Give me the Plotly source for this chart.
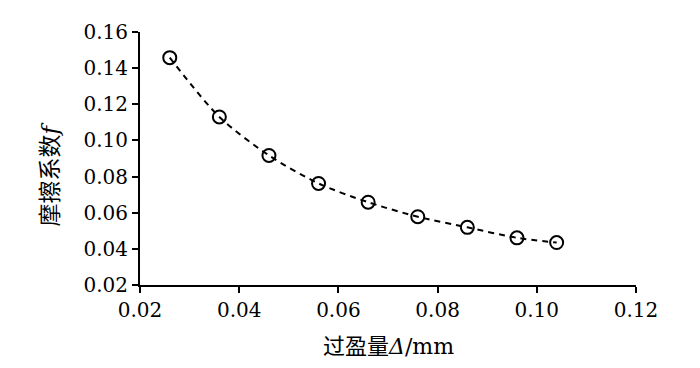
import plotly.graph_objects as go

interference = [0.026, 0.036, 0.046, 0.056, 0.066, 0.076, 0.086, 0.096, 0.104]
friction = [0.1458, 0.113, 0.0917, 0.0762, 0.0658, 0.0578, 0.0519, 0.0461, 0.0435]

x_ticks = [0.02, 0.04, 0.06, 0.08, 0.10, 0.12]
x_tick_labels = ["0.02", "0.04", "0.06", "0.08", "0.10", "0.12"]
y_ticks = [0.02, 0.04, 0.06, 0.08, 0.10, 0.12, 0.14, 0.16]
y_tick_labels = ["0.02", "0.04", "0.06", "0.08", "0.10", "0.12", "0.14", "0.16"]

FONT = "DejaVu Serif, Noto Sans CJK SC, serif"

fig = go.Figure()
fig.add_trace(go.Scatter(
    x=interference, y=friction, mode="lines",
    line=dict(color="black", width=2, dash="6px,5px", shape="spline", smoothing=0.8),
    showlegend=False, hoverinfo="skip"))
fig.add_trace(go.Scatter(
    x=interference, y=friction, mode="markers",
    marker=dict(symbol="circle-open", size=13, color="black", line=dict(width=2, color="black")),
    showlegend=False))

fig.update_layout(
    width=700, height=368,
    margin=dict(l=132, r=72, t=21, b=91),
    paper_bgcolor="white", plot_bgcolor="white",
    font=dict(family=FONT, size=20, color="black"),
)
fig.update_xaxes(
    range=[0.02, 0.12], tickvals=x_ticks, ticktext=x_tick_labels,
    showline=True, linecolor="black", linewidth=2, mirror=False,
    ticks="outside", ticklen=6, tickwidth=2, tickcolor="black",
    showgrid=False, zeroline=False,
)
fig.update_yaxes(
    range=[0.02, 0.16], tickvals=y_ticks, ticktext=y_tick_labels,
    showline=True, linecolor="black", linewidth=2, mirror=False,
    ticks="outside", ticklen=6, tickwidth=2, tickcolor="black",
    showgrid=False, zeroline=False,
)
fig.add_annotation(
    text="过盈量<i>Δ</i>/mm", xref="paper", yref="paper",
    x=0.5, y=-0.242, xanchor="center", yanchor="middle", showarrow=False,
    font=dict(family=FONT, size=22, color="black"))
fig.add_annotation(
    text="摩擦系数<i>f</i>", xref="paper", yref="paper",
    x=-0.181, y=0.4375, xanchor="center", yanchor="middle", showarrow=False,
    textangle=-90, font=dict(family=FONT, size=23, color="black"))

fig.write_html("out.html")
